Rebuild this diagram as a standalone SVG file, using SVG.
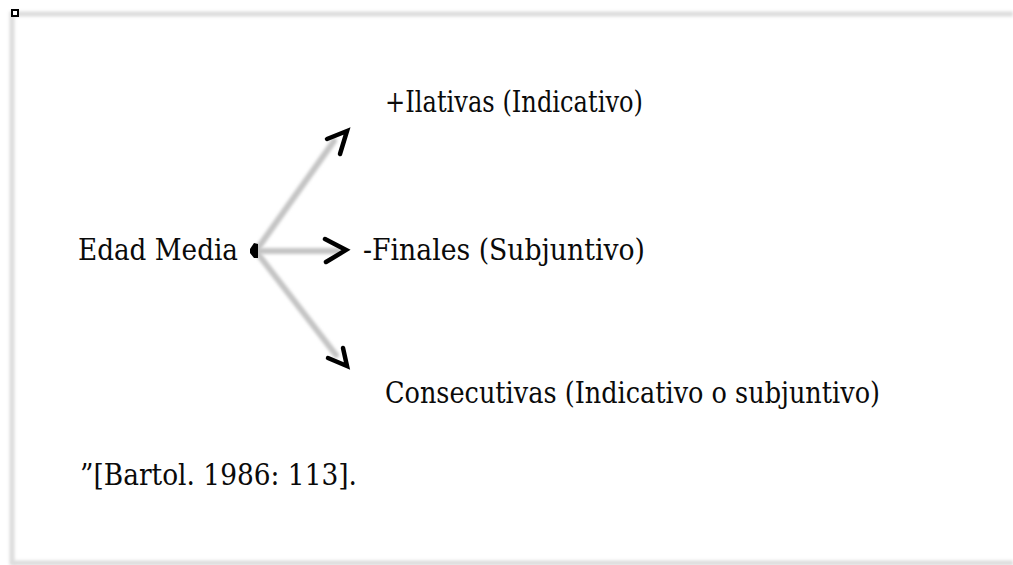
<svg xmlns="http://www.w3.org/2000/svg" width="1013" height="565" viewBox="0 0 1013 565">
  <style>
    .t { font-family: "DejaVu Serif", "Liberation Serif", serif; font-size: 29px; fill: #0a0a0a; }
    .edge { stroke: #c4c4c4; stroke-width: 6; stroke-linecap: round; fill: none; filter: url(#soft); }
    .head { stroke: #000; stroke-width: 4.5; stroke-linecap: round; stroke-linejoin: miter; fill: none; }
    .frame { stroke: #dcdcdc; stroke-width: 5; fill: none; filter: url(#soft); }
  </style>
  <defs>
    <!-- user-space region so straight horizontal/vertical strokes still blur -->
    <filter id="soft" filterUnits="userSpaceOnUse" x="0" y="0" width="1013" height="565">
      <feGaussianBlur stdDeviation="1.5"/>
    </filter>
  </defs>
  <rect width="1013" height="565" fill="#fff"/>

  <!-- page frame -->
  <g id="frame">
    <path class="frame" d="M12 565 V14 H1013"/>
    <path class="frame" d="M12 563 H1013" stroke-width="3"/>
    <rect x="12" y="10" width="6" height="6" fill="#fff" stroke="#000" stroke-width="2"/>
  </g>

  <!-- connectors -->
  <g id="connectors">
    <path class="edge" d="M258 248 L334 141"/>
    <path class="edge" d="M258 251 L338 251"/>
    <path class="edge" d="M258 254 L336 355"/>
    <polygon points="250,249 254,243 258,244 258,258 254,258 250,253" fill="#000"/>
    <path class="head" d="M327 139 L347 131 L340 154"/>
    <path class="head" d="M325 239 L346 250 L326 262"/>
    <path class="head" d="M343 348 L347 366 L328 358"/>
  </g>

  <g id="node-edad"><text class="t" x="78" y="260" textLength="160" lengthAdjust="spacingAndGlyphs">Edad Media</text></g>
  <g id="node-ilativas"><text class="t" x="385" y="112" textLength="258" lengthAdjust="spacingAndGlyphs">+Ilativas (Indicativo)</text></g>
  <g id="node-finales"><text class="t" x="363" y="260" textLength="282" lengthAdjust="spacingAndGlyphs">-Finales (Subjuntivo)</text></g>
  <g id="node-consecutivas"><text class="t" x="385" y="403" textLength="495" lengthAdjust="spacingAndGlyphs">Consecutivas (Indicativo o subjuntivo)</text></g>
  <g id="citation"><text class="t" x="80" y="485" textLength="277" lengthAdjust="spacingAndGlyphs">”[Bartol. 1986: 113].</text></g>
</svg>
